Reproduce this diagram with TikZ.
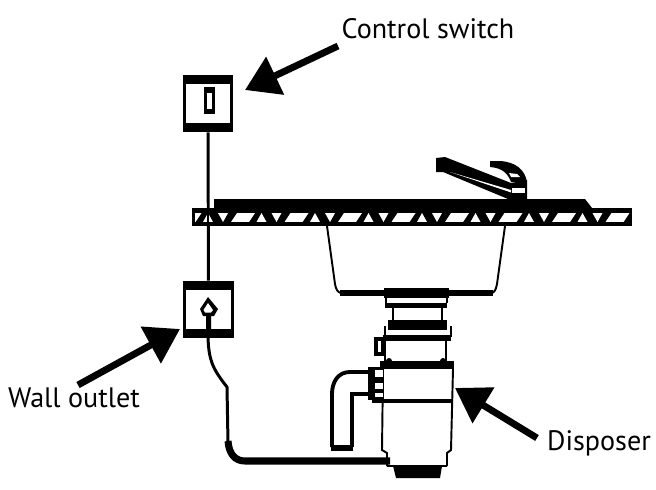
\documentclass[tikz,border=0pt]{standalone}
\usepackage{fontspec}
\setmainfont{PT Sans}
\usetikzlibrary{arrows.meta}
\tikzset{
	lbl/.style={inner sep=0pt,font=\fontsize{16}{18}\selectfont},
	wallbox/.style={draw,line width=1.9pt,minimum width=27pt,minimum height=31pt,inner sep=0pt},
	bigarrow/.style={line width=3.9pt,-{Triangle[length=19pt,width=23pt]}},
	thinline/.style={line width=1.1pt},
	wire/.style={line width=1.7pt}
}
\begin{document}
\begin{tikzpicture}[x=0.02cm,y=-0.02cm]
	\useasboundingbox (0,0) rectangle (656,490);
	% labels
	\node[lbl] (ctrllbl) at (428,29) {Control switch};
	\node[lbl] (walllbl) at (74,398) {Wall outlet};
	\node[lbl] (displbl) at (599,443) {Disposer};
	% boxes on the wall
	\node[wallbox] (switch) at (208,103.5) {};
	\node[wallbox] (outlet) at (208.5,309.5) {};
	\draw[wire] (switch) -- (outlet);
	\fill[white] (190,84) rectangle (227,123);
	\fill[white] (190,290) rectangle (227,329);
	\fill (183,75) rectangle (233,84);
	\fill (183,123) rectangle (233,132);
	\fill (183,281) rectangle (234,290);
	\fill (183,329) rectangle (234,338);
	% toggle
	\fill (203.5,87) rectangle (214.5,114);
	\fill[white] (206.5,93) rectangle (211.5,109);
	% plug
	\fill (208,297) -- (218,309) -- (214,316) -- (211,316) -- (211,330) -- (206,330) -- (206,316) -- (203,316) -- (200,309) -- cycle;
	\fill[white] (208,303) -- (213,310) -- (211,312.5) -- (205,312.5) -- (203.5,310) -- cycle;
	% counter top
	\fill (192,208) rectangle (632,226);
	\fill (214,199) -- (585,199) -- (592,208) -- (214,208) -- cycle;
	\begin{scope}
		\clip (195,213) rectangle (629,221.5);
		\foreach \x in {154.5,208,261.5,315,368.5,422,475.5,529,582.5} {
			\fill[white] (\x,213) -- (\x+5,222) -- (\x-5,222) -- cycle;
			\fill[white] (\x+10,213) -- (\x+20,213) -- (\x+15,222) -- cycle;
			\fill[white] (\x+29,213) -- (\x+47,213) -- (\x+41,222) -- (\x+23,222) -- cycle;
		}
	\end{scope}
	\draw[wire] (208,208) -- (208,226);
	% tap
	\fill (436,158) -- (445,157) -- (511,183) -- (527,180) -- (527,199) -- (508,199) -- (443,172) -- (436,172) -- cycle;
	\fill[white] (450,172) -- (511,190) -- (511,192.5) -- cycle;
	\fill[white] (512,188) rectangle (525,193);
	\fill (490,161) -- (500,161) .. controls (516,162) and (525,170) .. (527,182) -- (511,182) .. controls (508,174) and (503,168) .. (490,167) -- cycle;
	\fill[white] (509,173) -- (517,174) -- (520,177) -- (511,177) -- cycle;
	% sink
	\draw[thinline] (327,226) -- (335,284) .. controls (336,290) and (338,293) .. (342,293);
	\draw[thinline] (505,226) -- (497,284) .. controls (496,290) and (494,293) .. (491,293);
	\draw[line width=3pt] (340,293) -- (493,293);
	\fill (384,288) rectangle (449,298);
	% neck of the disposer
	\draw[thinline] (386,298) -- (386,303);
	\draw[thinline] (447,298) -- (447,303);
	\fill (385,303) rectangle (447,308);
	\draw[thinline] (393,308) -- (393,320);
	\draw[thinline] (442,308) -- (442,320);
	\fill (388,320) rectangle (447,330);
	\draw[thinline] (385,326) -- (385,337);
	\draw[thinline] (451,326) -- (451,337);
	\fill (383,335) rectangle (451,341);
	\draw[line width=2pt] (376,339) rectangle (383,354);
	\draw[thinline] (385,341) -- (385,362);
	\draw[thinline] (446,341) -- (446,362);
	\fill (380,361) rectangle (454,369);
	\fill (389,361) circle (3);
	\fill (443,361) circle (3);
	% body
	\draw[thinline] (383,369) -- (382,450) -- (387,453) -- (387,466);
	\draw[thinline] (453,369) -- (451,450) -- (447,453) -- (447,466);
	\draw[line width=2.2pt] (372,401) -- (452,401);
	\fill (393,466) -- (442,466) -- (440,478) -- (396,478) -- cycle;
	\fill (387,465) rectangle (447,467);
	% elbow
	\draw[line width=2.2pt] (370,372) -- (350,372) .. controls (338,372) and (332,382) .. (332,394) -- (332,447);
	\draw[line width=2.2pt] (370,394) -- (352,394) -- (352,447);
	\fill (331,445) rectangle (353,451);
	\fill (368,367) rectangle (384,400);
	\fill[white] (375,370) rectangle (383,377);
	\fill[white] (375,383) rectangle (383,389);
	\fill[white] (375,393) rectangle (383,397);
	% cord
	\coordinate (plugend) at (208,338);
	\coordinate (motor) at (390,461);
	\draw[wire] (plugend) .. controls (209,360) and (212,368) .. (227,387) -- (228,443);
	\draw[line width=4pt] (228,441) .. controls (229,454) and (235,461) .. (245,461) -- (motor);
	% arrows
	\coordinate (ctrltail) at (338,46);
	\coordinate (ctrltip) at (245,90);
	\coordinate (walltail) at (78,385);
	\coordinate (walltip) at (180,329);
	\coordinate (disptail) at (537,438);
	\coordinate (disptip) at (455,388);
	\draw[bigarrow] (ctrltail) -- (ctrltip);
	\draw[bigarrow] (walltail) -- (walltip);
	\draw[bigarrow] (disptail) -- (disptip);
\end{tikzpicture}
\end{document}
